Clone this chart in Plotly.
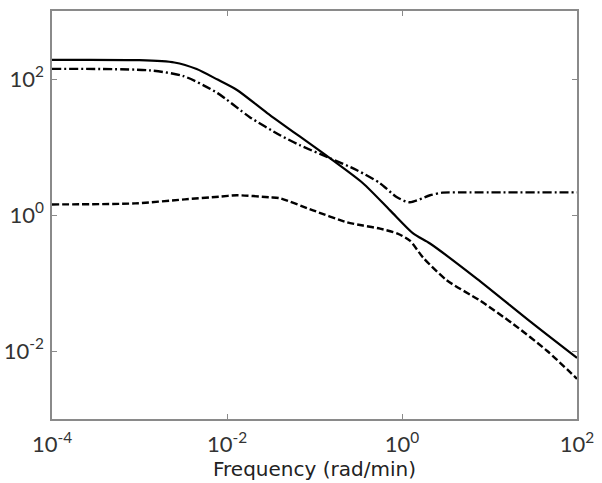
import plotly.graph_objects as go

# Solid curve
freq_solid = [1e-4, 1e-3, 2.5e-3, 4.5e-3, 7.8e-3, 1.3e-2, 2.88e-2, 0.15, 0.358, 0.73, 1.34, 2.09, 7.2, 31.6, 100]
mag_solid = [191, 189, 175, 140, 98, 69, 31.6, 6.84, 2.93, 1.17, 0.536, 0.381, 0.115, 0.025, 0.0079]

# Dash-dot curve
freq_dashdot = [1e-4, 1.3e-3, 3.2e-3, 7.8e-3, 1.82e-2, 4.04e-2, 6.82e-2, 0.15, 0.306, 0.561, 0.877, 1.23, 2.09, 2.9, 5.0, 100]
mag_dashdot = [141, 134, 110, 62, 27.5, 14.9, 10.6, 6.84, 4.55, 2.93, 1.82, 1.54, 1.95, 2.13, 2.15, 2.15]

# Dashed curve
freq_dashed = [1e-4, 8.9e-4, 3.3e-3, 8.1e-3, 1.3e-2, 3.1e-2, 4.04e-2, 9.62e-2, 0.235, 0.358, 0.561, 0.877, 1.23, 1.74, 3.24, 7.8, 18.6, 45.7, 100]
mag_dashed = [1.43, 1.48, 1.70, 1.86, 1.95, 1.82, 1.76, 1.17, 0.78, 0.70, 0.63, 0.537, 0.42, 0.237, 0.11, 0.055, 0.025, 0.010, 0.0039]

tick_vals = [1e-4, 1e-2, 1e0, 1e2]
tick_text = ["10<sup>-4</sup>", "10<sup>-2</sup>", "10<sup>0</sup>", "10<sup>2</sup>"]
ytick_vals = [1e-2, 1e0, 1e2]
ytick_text = ["10<sup>-2</sup>", "10<sup>0</sup>", "10<sup>2</sup>"]

fig = go.Figure()
fig.add_trace(go.Scatter(x=freq_solid, y=mag_solid, mode="lines",
                         line=dict(color="black", width=2.2, shape="spline", smoothing=0.7)))
fig.add_trace(go.Scatter(x=freq_dashdot, y=mag_dashdot, mode="lines",
                         line=dict(color="black", width=2.4, dash="9px,3px,2px,3px", shape="spline", smoothing=0.7)))
fig.add_trace(go.Scatter(x=freq_dashed, y=mag_dashed, mode="lines",
                         line=dict(color="black", width=2.4, dash="7px,3px", shape="spline", smoothing=0.7)))

axis_common = dict(
    type="log", showgrid=False, zeroline=False, showline=True, linecolor="#8a8a8a", linewidth=1.5,
    mirror="ticks", ticks="inside", ticklen=5, tickcolor="#8a8a8a", tickwidth=1,
    tickmode="array", automargin=False,
    tickfont=dict(family="Lato", size=22, color="#333333"),
)

fig.update_layout(
    width=602, height=483,
    margin=dict(l=52, r=25, t=11, b=64),
    paper_bgcolor="white", plot_bgcolor="white",
    showlegend=False,
    xaxis=dict(axis_common, range=[-4, 2], tickvals=tick_vals, ticktext=tick_text,
               ticklabelstandoff=5,
               title=dict(text="Frequency (rad/min)", standoff=6,
                          font=dict(family="DejaVu Sans", size=20, color="#222222"))),
    yaxis=dict(axis_common, range=[-3, 3], tickvals=ytick_vals, ticktext=ytick_text,
               ticklabelstandoff=2),
)

fig.write_html("out.html")
